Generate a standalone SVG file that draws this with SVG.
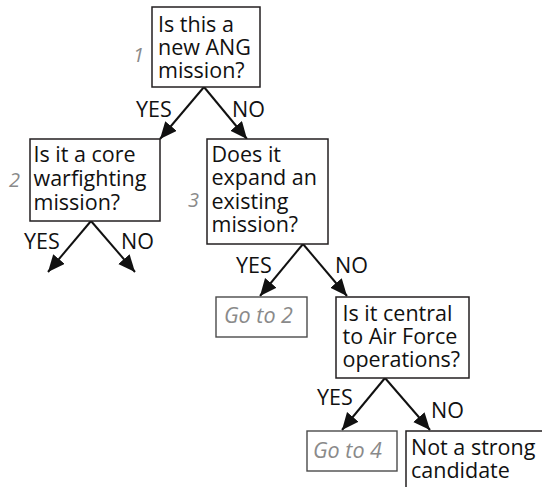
<svg xmlns="http://www.w3.org/2000/svg" width="542" height="487" viewBox="0 0 542 487">
<style>
.box{fill:#fff;stroke:#231f20;stroke-width:1.5}
.gbox{fill:#fff;stroke:#4a4a4a;stroke-width:1.4}
.t{font-family:"Open Sans","Liberation Sans",sans-serif;font-size:21.5px;fill:#111}
.lbl{font-family:"Open Sans","Liberation Sans",sans-serif;font-size:21.5px;fill:#111}
.g{font-family:"Open Sans","Liberation Sans",sans-serif;font-size:21.5px;font-style:italic;fill:#8a8a8a}
.num{font-family:"Open Sans","Liberation Sans",sans-serif;font-size:20px;font-style:italic;fill:#8a8a8a}
.c{stroke:#111;stroke-width:2;fill:none;marker-end:url(#ah)}
</style>
<defs>
<marker id="ah" markerUnits="userSpaceOnUse" markerWidth="18" markerHeight="16" refX="17" refY="7.5" orient="auto">
<path d="M0,0 L17,7.5 L0,15 z" fill="#111"/>
</marker>
</defs>
<rect width="542" height="487" fill="#fff"/>
<g id="connectors">
<line class="c" x1="204" y1="87" x2="160" y2="139"/>
<line class="c" x1="204" y1="87" x2="247" y2="139"/>
<line class="c" x1="91" y1="221" x2="48" y2="272"/>
<line class="c" x1="91" y1="221" x2="135" y2="272"/>
<line class="c" x1="303" y1="244" x2="260" y2="296"/>
<line class="c" x1="303" y1="244" x2="347" y2="296"/>
<line class="c" x1="385" y1="378" x2="342" y2="430"/>
<line class="c" x1="385" y1="378" x2="430" y2="430"/>
<text class="lbl" x="136" y="117">YES</text>
<text class="lbl" x="232" y="117">NO</text>
<text class="lbl" x="24" y="249">YES</text>
<text class="lbl" x="121" y="249">NO</text>
<text class="lbl" x="236" y="273">YES</text>
<text class="lbl" x="335" y="273">NO</text>
<text class="lbl" x="317" y="405">YES</text>
<text class="lbl" x="431" y="418">NO</text>
</g>
<g id="q1">
<rect class="box" x="152" y="7" width="108" height="80"/>
<text class="num" x="133" y="62">1</text>
<text class="t" x="158" y="32">Is this a</text>
<text class="t" x="158" y="55">new ANG</text>
<text class="t" x="158" y="78">mission?</text>
</g>
<g id="q2">
<rect class="box" x="30" y="139" width="130" height="82"/>
<text class="num" x="9" y="187">2</text>
<text class="t" x="33.5" y="162">Is it a core</text>
<text class="t" x="33.5" y="186">warfighting</text>
<text class="t" x="33.5" y="210">mission?</text>
</g>
<g id="q3">
<rect class="box" x="207" y="139" width="121" height="105"/>
<text class="num" x="188" y="207">3</text>
<text class="t" x="211.5" y="162">Does it</text>
<text class="t" x="211.5" y="185">expand an</text>
<text class="t" x="211.5" y="209">existing</text>
<text class="t" x="211.5" y="232">mission?</text>
</g>
<g id="goto2">
<rect class="gbox" x="216" y="297" width="91" height="40"/>
<text class="g" x="224" y="323">Go to 2</text>
</g>
<g id="q4">
<rect class="box" x="336" y="297" width="133" height="81"/>
<text class="t" x="342.5" y="321">Is it central</text>
<text class="t" x="342.5" y="344">to Air Force</text>
<text class="t" x="342.5" y="367">operations?</text>
</g>
<g id="goto4">
<rect class="gbox" x="307" y="431" width="90" height="40"/>
<text class="g" x="313" y="458">Go to 4</text>
</g>
<g id="notstrong">
<rect class="box" x="406" y="431" width="160" height="70"/>
<text class="t" x="411" y="455">Not a strong</text>
<text class="t" x="411" y="478">candidate</text>
</g>
</svg>
